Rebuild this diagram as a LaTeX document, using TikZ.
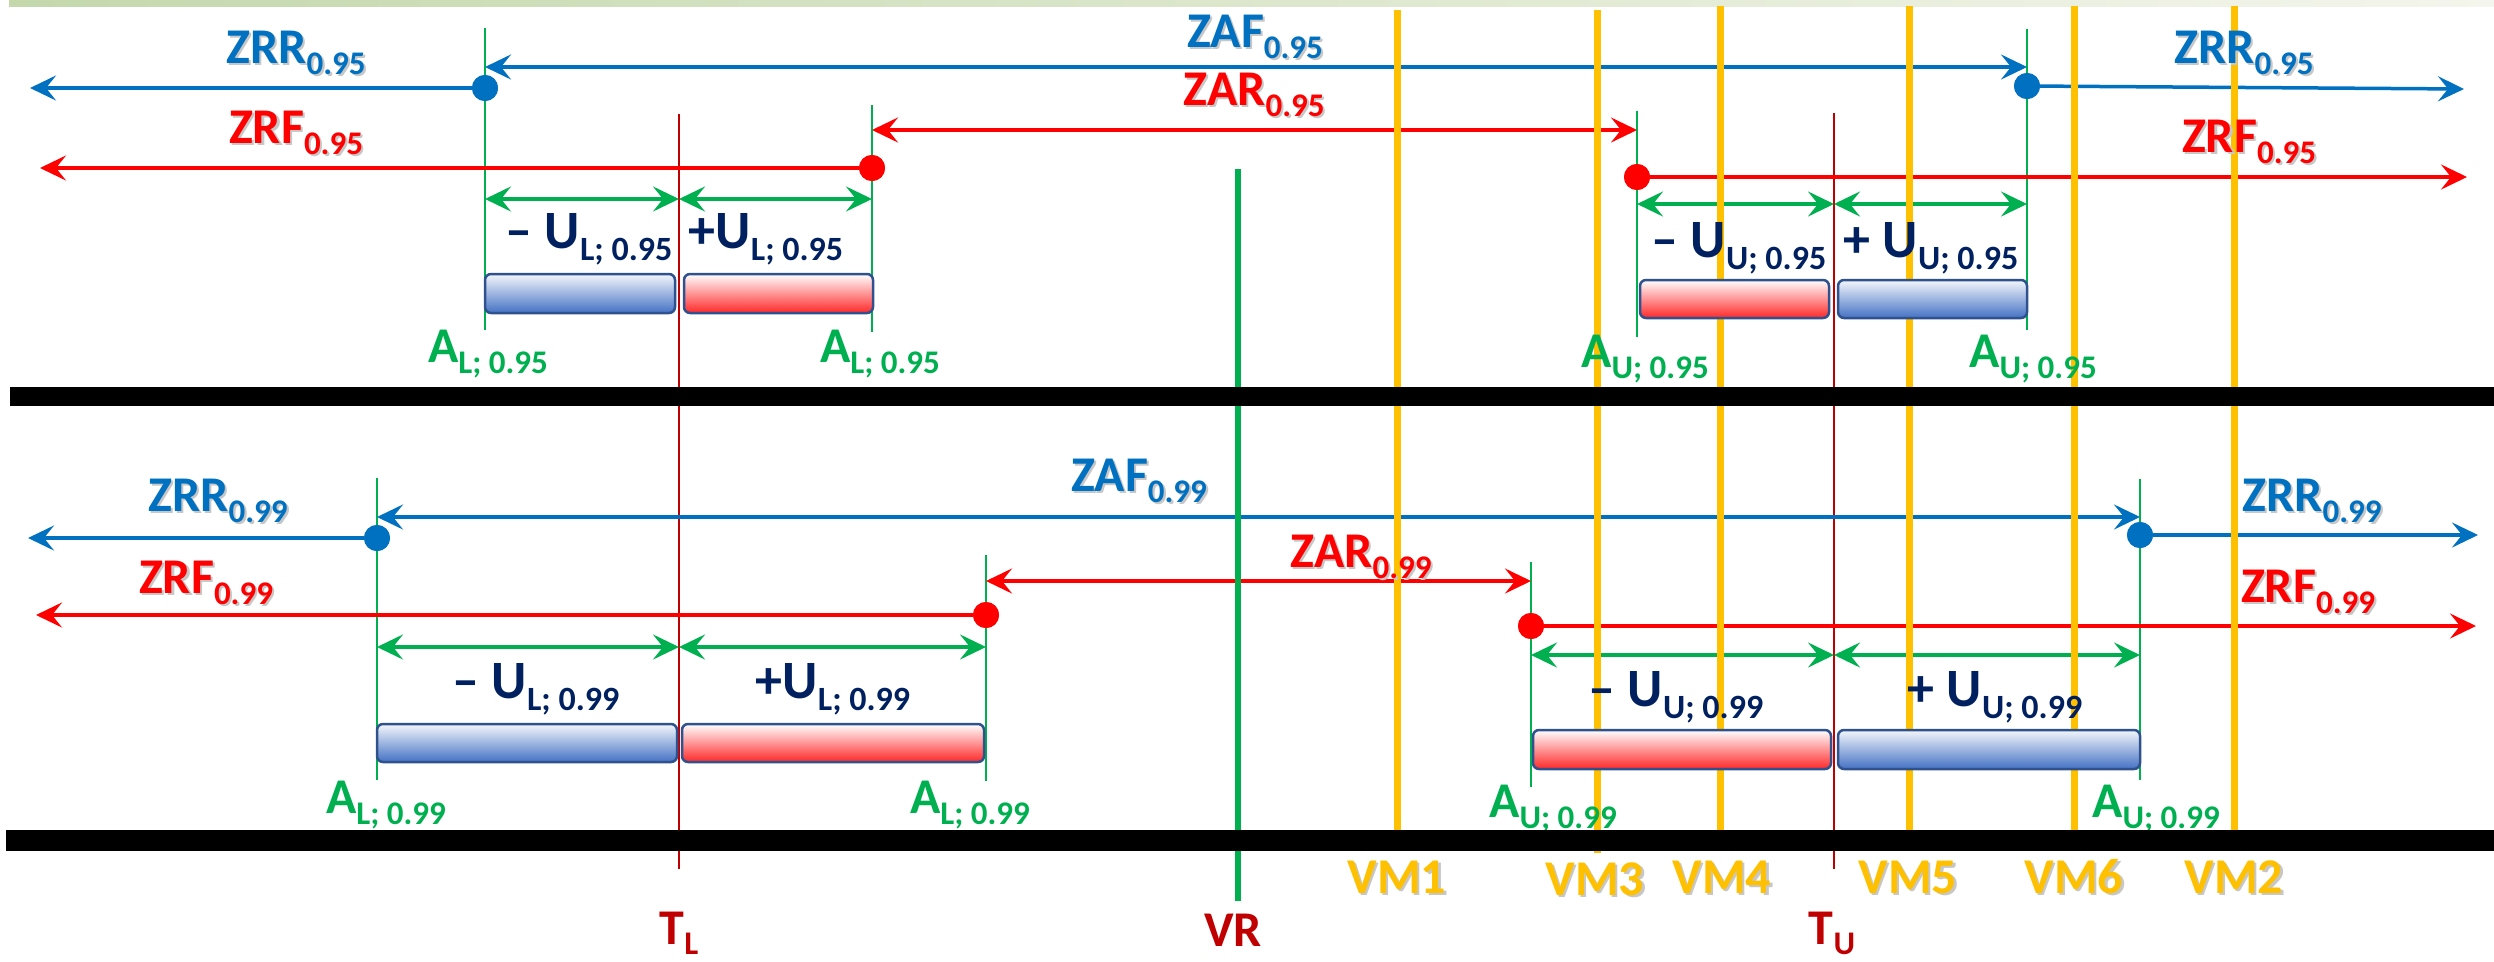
\documentclass[tikz,border=0pt]{standalone}
\usepackage{fontspec}
\setmainfont{Carlito}
\usetikzlibrary{arrows.meta}

\definecolor{zblue}{RGB}{0,112,192}
\definecolor{zred}{RGB}{255,0,0}
\definecolor{agreen}{RGB}{0,176,80}
\definecolor{unavy}{RGB}{0,32,96}
\definecolor{dred}{RGB}{192,0,0}
\definecolor{vmgold}{RGB}{255,192,0}
\definecolor{boxline}{RGB}{47,82,143}
\definecolor{boxblue}{RGB}{68,114,196}
\definecolor{boxred}{RGB}{255,40,40}
\definecolor{stripA}{RGB}{196,216,172}
\definecolor{stripB}{RGB}{244,245,236}

% subscripts for the 50pt labels and for the 54pt uncertainty labels
\newcommand\sbs[1]{\raisebox{-11pt}{\fontsize{33}{33}\selectfont #1}}
\newcommand\sbsU[1]{\raisebox{-12pt}{\fontsize{34}{34}\selectfont #1}}
% soft grey drop shadow behind a label
\newcommand\shd[1]{\leavevmode\rlap{\kern2.2pt\raisebox{-2.2pt}{\color{black!22}#1}}#1}

\begin{document}
\begin{tikzpicture}[x=1pt,y=-1pt,
  >={Stealth[length=26pt,width=25pt,inset=10pt]},
  harrow/.style={line width=3.5pt},
  garrow/.style={<->,agreen,line width=3.5pt},
  aline/.style={agreen,line width=2.4pt},
  tline/.style={dred,line width=2.4pt},
  vmline/.style={vmgold,line width=7pt},
  dot/.style={circle,inner sep=0pt,minimum size=26pt},
  ubox/.style={draw=boxline,line width=2.5pt,rounded corners=6pt},
  bbox/.style={ubox,top color=white!94!boxblue,bottom color=boxblue},
  rbox/.style={ubox,top color=white,bottom color=boxred},
  lbl/.style={inner sep=0pt,anchor=base,font=\fontsize{50}{50}\selectfont\bfseries},
  ulbl/.style={inner sep=0pt,anchor=base,text=unavy,font=\fontsize{54}{54}\selectfont\bfseries},
  albl/.style={lbl,text=agreen},
  vmlbl/.style={lbl,text=vmgold},
  tlbl/.style={lbl,text=dred}]

\useasboundingbox (0,0) rectangle (2494,961);

% header strip
\shade[left color=stripA,right color=stripB] (9,0) rectangle (2494,6);

% x positions of the limits and tolerance marks
\coordinate (AL95a) at (485,0);  \coordinate (AL95b) at (872,0);
\coordinate (AU95a) at (1637,0); \coordinate (AU95b) at (2027,0);
\coordinate (AL99a) at (377,0);  \coordinate (AL99b) at (986,0);
\coordinate (AU99a) at (1531,0); \coordinate (AU99b) at (2140,0);
\coordinate (TL) at (679,0);     \coordinate (TU) at (1834,0);

% tolerance lines
\draw[tline] (TL |- 0,114) -- (TL |- 0,869);
\draw[tline] (TU |- 0,113) -- (TU |- 0,869);

% acceptance limit lines
\draw[aline] (AL95a |- 0,28)  -- (AL95a |- 0,330);
\draw[aline] (AL95b |- 0,105) -- (AL95b |- 0,332);
\draw[aline] (AU95a |- 0,111) -- (AU95a |- 0,337);
\draw[aline] (AU95b |- 0,29)  -- (AU95b |- 0,330);
\draw[aline] (AL99a |- 0,478) -- (AL99a |- 0,780);
\draw[aline] (AL99b |- 0,555) -- (AL99b |- 0,781);
\draw[aline] (AU99a |- 0,562) -- (AU99a |- 0,787);
\draw[aline] (AU99b |- 0,479) -- (AU99b |- 0,780);

% ---------- 95 % level: zones ----------
\node[dot,fill=zblue] (dRL95) at (AL95a |- 0,88) {};
\node[dot,fill=zblue] (dRU95) at (AU95b |- 0,86) {};
\node[dot,fill=zred]  (dFL95) at (AL95b |- 0,168) {};
\node[dot,fill=zred]  (dFU95) at (AU95a |- 0,177) {};
\coordinate (eRL95) at (30,88);   \coordinate (eRU95) at (2464,89);
\coordinate (eFL95) at (40,168);  \coordinate (eFU95) at (2467,177);

\draw[harrow,zblue,<->] (AL95a |- 0,67) -- (AU95b |- 0,67);
\draw[harrow,zred,<->]  (AL95b |- 0,130) -- (AU95a |- 0,130);
\draw[harrow,zblue,->] (dRL95) -- (eRL95);
\draw[harrow,zblue,->] (dRU95) -- (eRU95);
\draw[harrow,zred,->]  (dFL95) -- (eFL95);
\draw[harrow,zred,->]  (dFU95) -- (eFU95);
\node[dot,fill=zblue] at (dRL95) {};
\node[dot,fill=zblue] at (dRU95) {};
\node[dot,fill=zred]  at (dFL95) {};
\node[dot,fill=zred]  at (dFU95) {};

\draw[garrow] (AL95a |- 0,199) -- (TL |- 0,199);
\draw[garrow] (TL |- 0,199) -- (AL95b |- 0,199);
\draw[garrow] (AU95a |- 0,204) -- (TU |- 0,204);
\draw[garrow] (TU |- 0,204) -- (AU95b |- 0,204);

% ---------- 99 % level: zones ----------
\node[dot,fill=zblue] (dRL99) at (AL99a |- 0,538) {};
\node[dot,fill=zblue] (dRU99) at (AU99b |- 0,535) {};
\node[dot,fill=zred]  (dFL99) at (AL99b |- 0,615) {};
\node[dot,fill=zred]  (dFU99) at (AU99a |- 0,626) {};
\coordinate (eRL99) at (28,538);  \coordinate (eRU99) at (2478,535);
\coordinate (eFL99) at (36,615);  \coordinate (eFU99) at (2476,626);

\draw[harrow,zblue,<->] (AL99a |- 0,517) -- (AU99b |- 0,517);
\draw[harrow,zred,<->]  (AL99b |- 0,581) -- (AU99a |- 0,581);
\draw[harrow,zblue,->] (dRL99) -- (eRL99);
\draw[harrow,zblue,->] (dRU99) -- (eRU99);
\draw[harrow,zred,->]  (dFL99) -- (eFL99);
\draw[harrow,zred,->]  (dFU99) -- (eFU99);
\node[dot,fill=zblue] at (dRL99) {};
\node[dot,fill=zblue] at (dRU99) {};
\node[dot,fill=zred]  at (dFL99) {};
\node[dot,fill=zred]  at (dFU99) {};

\draw[garrow] (AL99a |- 0,647) -- (TL |- 0,647);
\draw[garrow] (TL |- 0,647) -- (AL99b |- 0,647);
\draw[garrow] (AU99a |- 0,655) -- (TU |- 0,655);
\draw[garrow] (TU |- 0,655) -- (AU99b |- 0,655);

% reference value and measured values
\draw[agreen,line width=6pt] (1238,169) -- (1238,901);
\draw[vmline] (1397,10) -- (1397,830);
\draw[vmline] (1597,10) -- (1597,853);
\draw[vmline] (1720,6) -- (1720,830);
\draw[vmline] (1909,6) -- (1909,830);
\draw[vmline] (2074,6) -- (2074,830);
\draw[vmline] (2234,6) -- (2234,830);

% uncertainty bars
\path[bbox] (485,274) rectangle (675,313);
\path[rbox] (684,274) rectangle (873,313);
\path[rbox] (1640,280) rectangle (1829,318);
\path[bbox] (1838,280) rectangle (2027,318);
\path[bbox] (377,724) rectangle (677,762);
\path[rbox] (682,724) rectangle (984,762);
\path[rbox] (1533,730) rectangle (1831,769);
\path[bbox] (1838,730) rectangle (2140,769);

% ---------- 95 % level: labels ----------
\node[lbl,text=zblue] (zrrL95) at (296,63)   {\shd{ZRR\sbs{0.95}}};
\node[lbl,text=zred]  (zrfL95) at (296,143)  {\shd{ZRF\sbs{0.95}}};
\node[lbl,text=zblue] (zaf95)  at (1255,47)  {\shd{ZAF\sbs{0.95}}};
\node[lbl,text=zred]  (zar95)  at (1254,105) {\shd{ZAR\sbs{0.95}}};
\node[lbl,text=zblue] (zrrU95) at (2244,63)  {\shd{ZRR\sbs{0.95}}};
\node[lbl,text=zred]  (zrfU95) at (2249,152) {\shd{ZRF\sbs{0.95}}};

\node[ulbl] (umL95) at (589,248)  {\textendash{} U\sbsU{L; 0.95}};
\node[ulbl] (upL95) at (766,248)  {+U\sbsU{L; 0.95}};
\node[ulbl] (umU95) at (1739,257) {\textendash{} U\sbsU{U; 0.95}};
\node[ulbl] (upU95) at (1931,257) {+ U\sbsU{U; 0.95}};

\node[albl] (aL95a) at (488,362)  {A\sbs{L; 0.95}};
\node[albl] (aL95b) at (880,362)  {A\sbs{L; 0.95}};
\node[albl] (aU95a) at (1645,367) {A\sbs{U; 0.95}};
\node[albl] (aU95b) at (2033,367) {A\sbs{U; 0.95}};

% ---------- 99 % level: labels ----------
\node[lbl,text=zblue] (zrrL99) at (218,511)  {\shd{ZRR\sbs{0.99}}};
\node[lbl,text=zred]  (zrfL99) at (206,593)  {\shd{ZRF\sbs{0.99}}};
\node[lbl,text=zblue] (zaf99)  at (1139,491) {\shd{ZAF\sbs{0.99}}};
\node[lbl,text=zred]  (zar99)  at (1361,567) {\shd{ZAR\sbs{0.99}}};
\node[lbl,text=zblue] (zrrU99) at (2312,511) {\shd{ZRR\sbs{0.99}}};
\node[lbl,text=zred]  (zrfU99) at (2308,602) {\shd{ZRF\sbs{0.99}}};

\node[ulbl] (umL99) at (536,698)  {\textendash{} U\sbsU{L; 0.99}};
\node[ulbl] (upL99) at (833,698)  {+U\sbsU{L; 0.99}};
\node[ulbl] (umU99) at (1676,706) {\textendash{} U\sbsU{U; 0.99}};
\node[ulbl] (upU99) at (1995,706) {+ U\sbsU{U; 0.99}};

\node[albl] (aL99a) at (386,813)  {A\sbs{L; 0.99}};
\node[albl] (aL99b) at (970,813)  {A\sbs{L; 0.99}};
\node[albl] (aU99a) at (1553,817) {A\sbs{U; 0.99}};
\node[albl] (aU99b) at (2156,817) {A\sbs{U; 0.99}};

% separating bars
\fill[black] (10,387) rectangle (2494,406);
\fill[black] (6,830) rectangle (2494,851);

% axis labels
\node[vmlbl] (vm1) at (1397,893) {\shd{VM1}};
\node[vmlbl] (vm3) at (1595,895) {\shd{VM3}};
\node[vmlbl] (vm4) at (1722,893) {\shd{VM4}};
\node[vmlbl] (vm5) at (1908,893) {\shd{VM5}};
\node[vmlbl] (vm6) at (2074,893) {\shd{VM6}};
\node[vmlbl] (vm2) at (2234,893) {\shd{VM2}};
\node[tlbl] (vr) at (1233,946) {VR};
\node[tlbl] (tl) at (679,944)  {T\raisebox{-10pt}{\fontsize{33}{33}\selectfont L}};
\node[tlbl] (tu) at (1832,944) {T\raisebox{-10pt}{\fontsize{33}{33}\selectfont U}};
\end{tikzpicture}
\end{document}
